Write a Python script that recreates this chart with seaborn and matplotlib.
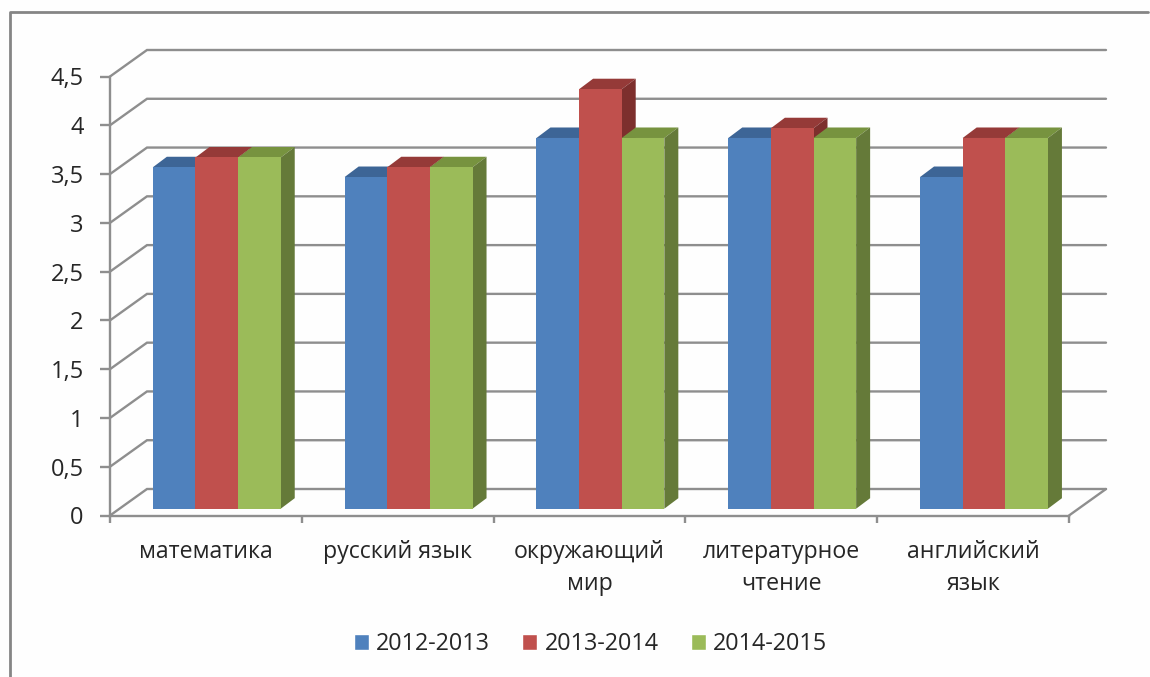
import matplotlib
matplotlib.use("Agg")
import matplotlib.pyplot as plt
from matplotlib.patches import Polygon
from matplotlib.lines import Line2D
from matplotlib.transforms import ScaledTranslation
import pandas as pd
import seaborn as sns

subjects = ["математика", "русский язык", "окружающий\nмир", "литературное\nчтение", "английский\nязык"]
v_2012_2013 = [3.5, 3.4, 3.8, 3.8, 3.4]
v_2013_2014 = [3.6, 3.5, 4.3, 3.9, 3.8]
v_2014_2015 = [3.6, 3.5, 3.8, 3.8, 3.8]
years = ["2012-2013", "2013-2014", "2014-2015"]
y_ticks = [0, 0.5, 1, 1.5, 2, 2.5, 3, 3.5, 4, 4.5]
y_labels = ["0", "0,5", "1", "1,5", "2", "2,5", "3", "3,5", "4", "4,5"]
front = ["#4F81BD", "#C0504D", "#9BBB59"]
top = ["#3D6596", "#953A38", "#77933F"]
side = ["#385D8A", "#7D2F2D", "#657A39"]

W, H = 1150, 677
GRID = "#8E8E8E"
TEXT = "#262626"

sns.set_theme(style="white")
plt.rcParams["font.family"] = ["Open Sans", "DejaVu Sans"]

df = pd.DataFrame({
    "subject": subjects * 3,
    "year": [y for y in years for _ in subjects],
    "value": v_2012_2013 + v_2013_2014 + v_2014_2015,
})

fig = plt.figure(figsize=(W / 100, H / 100), dpi=100, facecolor="#FEFEFE")
left, right, ybot, ytop = 110, 1069, 515.5, 76.5
ax = fig.add_axes([left / W, 1 - ybot / H, (right - left) / W, (ybot - ytop) / H])
ax.patch.set_alpha(0)

sns.barplot(data=df, x="subject", y="value", hue="year", palette=front, saturation=1,
            width=2 / 3, gap=0, dodge=True, ax=ax, legend=True)

ax.set_xlim(-0.5, 4.5)
ax.set_ylim(0, 4.5)
ux = (right - left) / 5      # pixels per category
uy = (ybot - ytop) / 4.5     # pixels per unit

# back wall and floor
wx, wy = 37 / ux, 26.5 / uy
for v in y_ticks:
    ax.add_line(Line2D([-0.5, -0.5 + wx, 4.5 + wx], [v, v + wy, v + wy], color=GRID, lw=1.7,
                       clip_on=False, zorder=1, solid_joinstyle="miter"))
ax.add_line(Line2D([4.5, 4.5 + wx], [0, wy], color=GRID, lw=1.7, clip_on=False, zorder=1))

# bars with their depth faces
shift = ScaledTranslation(10.9 / 100, 6.8 / 100, fig.dpi_scale_trans)
tr = ax.transData + shift
dx, dy = 14 / ux, 10.5 / uy
z = 3
for i in range(len(subjects)):
    for j, cont in enumerate(ax.containers):
        b = cont[i]
        x0, x1, h = b.get_x(), b.get_x() + b.get_width(), b.get_height()
        ax.add_patch(Polygon([(x0, h), (x0 + dx, h + dy), (x1 + dx, h + dy), (x1, h)],
                             closed=True, fc=top[j], ec="none", transform=tr, clip_on=False, zorder=z))
        ax.add_patch(Polygon([(x1, 0), (x1 + dx, dy), (x1 + dx, h + dy), (x1, h)],
                             closed=True, fc=side[j], ec="none", transform=tr, clip_on=False, zorder=z))
        b.set_transform(tr)
        b.set_clip_on(False)
        b.set_linewidth(0)
        b.set_zorder(z + 0.5)
        z += 1

ax.set_xlim(-0.5, 4.5)
ax.set_ylim(0, 4.5)
ax.set_xlabel("")
ax.set_ylabel("")
sns.despine(ax=ax)
for s in ("left", "bottom"):
    ax.spines[s].set_color(GRID)
    ax.spines[s].set_linewidth(1.7)
    ax.spines[s].set_zorder(2)

ax.set_yticks(y_ticks)
ax.set_yticklabels(y_labels, fontsize=17, color=TEXT)
ax.set_xticks(range(len(subjects)))
ax.set_xticklabels(subjects, fontsize=16.7, color=TEXT, linespacing=1.4)
ax.set_xticks([k - 0.5 for k in range(len(subjects) + 1)], minor=True)
ax.tick_params(axis="x", which="major", length=0, pad=18)
ax.tick_params(axis="x", which="minor", length=5, width=1.7, color=GRID, bottom=True)
ax.tick_params(axis="y", length=7, width=1.7, color=GRID, left=True, pad=12)

handles, labels = ax.get_legend_handles_labels()
ax.legend(handles, labels, ncol=3, frameon=False, loc="center", fontsize=16.8,
          bbox_to_anchor=(590.5 / W, 1 - 644 / H), bbox_transform=fig.transFigure,
          handlelength=0.65, handleheight=0.65, handletextpad=0.3, columnspacing=1.37,
          labelcolor=TEXT)

# outer chart frame
fig.add_artist(Line2D([9.5 / W, 9.5 / W, 1148 / W], [0, 1 - 11.5 / H, 1 - 11.5 / H],
                      color="#858585", lw=2, transform=fig.transFigure))

fig.savefig("out.png", dpi=100, facecolor=fig.get_facecolor())
